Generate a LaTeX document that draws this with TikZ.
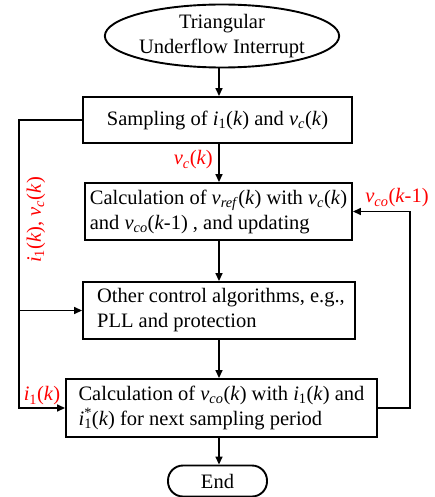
\documentclass[tikz,border=0pt]{standalone}
\usepackage{fontspec}
\setmainfont{Liberation Serif}
\usetikzlibrary{shapes.geometric,arrows.meta}
\newcommand\vv[1]{\textit{v}\textsubscript{\textit{#1}}}
\newcommand\ii{\textit{i}\textsubscript{1}}
\newcommand\kk{(\textit{k})}
\begin{document}
\begin{tikzpicture}[x=1pt,y=-1pt,
  every node/.style={font=\fontsize{20.5}{25}\selectfont},
  ell/.style={draw,line width=1.9pt,ellipse,inner sep=0pt,align=center},
  box/.style={draw,line width=1.9pt,inner sep=0pt},
  lbl/.style={text=red,inner sep=0pt},
  arr/.style={line width=1.5pt,-{Triangle[length=8pt,width=7pt]}}]
\useasboundingbox (0,0) rectangle (434,497);
\node[ell,minimum width=216,minimum height=63] (start) at (222,36) {Triangular\\Underflow Interrupt};
\node[box,minimum width=269,minimum height=46] (s1) at (217.5,120) {Sampling of \ii\kk{} and \vv{c}\kk};
\node[box,minimum width=267,minimum height=57,align=left] (s2) at (218.5,211.5) {Calculation of \vv{ref}\kk{} with \vv{c}\kk\\and \vv{co}(\textit{k}-1) , and updating};
\node[box,minimum width=272,minimum height=57,align=left] (s3) at (219,310.5) {\hspace*{4pt}Other control algorithms, e.g.,\\\hspace*{4pt}PLL and protection};
\node[box,minimum width=311,minimum height=58,align=left] (s4) at (221.5,408) {Calculation of \vv{co}\kk{} with \ii\kk{} and\\\textit{i}\rlap{\textsubscript{1}}\textsuperscript{*}\kk{} for next sampling period};
\node[box,rounded corners=15pt,minimum width=99,minimum height=31] (end) at (217.5,481) {End};
\coordinate (mx) at (219,0);
\coordinate (lx) at (19,0);
\coordinate (rx) at (410,0);
\draw[arr] (start.south -| mx) -- (s1.north -| mx);
\draw[arr] (s1.south -| mx) -- (s2.north -| mx);
\draw[arr] (s2.south -| mx) -- (s3.north -| mx);
\draw[arr] (s3.south -| mx) -- (s4.north -| mx);
\draw[arr] (s4.south -| mx) -- (end.north -| mx);
\draw[arr] (s1.west) -| (lx |- s4.west) -- (s4.west);
\draw[arr] (lx |- s3.west) -- (s3.west);
\draw[arr] (s4.east) -| (rx |- s2.east) -- (s2.east);
\node[lbl,anchor=east] (l1) at (213,160) {\vv{c}\kk};
\node[lbl] (l2) at (397,198) {\vv{co}(\textit{k}-1)};
\node[lbl] (l3) at (42,396) {\ii\kk};
\node[lbl,rotate=90] (l4) at (36,220) {\ii\kk, \vv{c}\kk};
\end{tikzpicture}
\end{document}
